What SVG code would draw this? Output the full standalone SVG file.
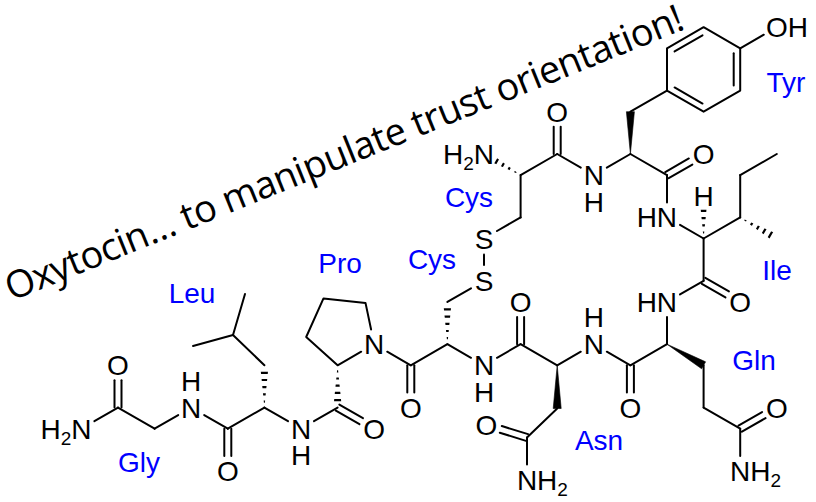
<svg xmlns="http://www.w3.org/2000/svg" width="816" height="502" viewBox="0 0 816 502">
<style>
.b{stroke:#000;stroke-width:2;fill:none;stroke-linecap:round;stroke-linejoin:round}
.w{fill:#000;stroke:#000;stroke-width:0.6;stroke-linejoin:round}
.h{stroke:#000;stroke-width:10;stroke-dasharray:2.2 5;fill:none}
.a{font-family:"Liberation Sans",Arial,sans-serif;font-size:28px;fill:#000}
.m{text-anchor:middle}
.e{text-anchor:end}
.sub{font-size:19px}
.r{font-family:"Liberation Sans",Arial,sans-serif;font-size:28px;fill:#0000ff;text-anchor:middle}
.t{font-family:"Open Sans","Noto Sans",sans-serif;font-size:38px;fill:#000}
</style>
<defs>
<clipPath id="cLeu" clipPathUnits="userSpaceOnUse"><polygon points="264.4,407.6 260.2,365.3 268.6,365.3"/></clipPath>
<clipPath id="cPro" clipPathUnits="userSpaceOnUse"><polygon points="337.6,365.3 333.4,407.6 341.8,407.6"/></clipPath>
<clipPath id="cCys2" clipPathUnits="userSpaceOnUse"><polygon points="447.4,344.2 443.2,301.9 451.6,301.9"/></clipPath>
<clipPath id="cCys1" clipPathUnits="userSpaceOnUse"><polygon points="520.6,175.1 486.1,150.36 481.9,157.64"/></clipPath>
<clipPath id="cIleH" clipPathUnits="userSpaceOnUse"><polygon points="703.6,238.5 699.4,196.2 707.8,196.2"/></clipPath>
<clipPath id="cIleMe" clipPathUnits="userSpaceOnUse"><polygon points="740.2,217.4 774.7,242.14 778.9,234.86"/></clipPath>
</defs>

<text class="t" x="11.4" y="301.3" transform="rotate(-22 11.4 301.3)" textLength="728" lengthAdjust="spacing">Oxytocin… to manipulate trust orientation!</text>

<g id="connectors">
<!-- Gly -->
<line class="b" x1="94.4" y1="421.2" x2="118" y2="407.6"/>
<line class="b" x1="114.5" y1="407.6" x2="114.5" y2="380.3"/>
<line class="b" x1="121.5" y1="407.6" x2="121.5" y2="380.3"/>
<line class="b" x1="118" y1="407.6" x2="154.6" y2="428.7"/>
<line class="b" x1="154.6" y1="428.7" x2="178.2" y2="415.1"/>
<!-- Leu -->
<line class="b" x1="204.2" y1="415.1" x2="227.8" y2="428.7"/>
<line class="b" x1="224.3" y1="428.7" x2="224.3" y2="456"/>
<line class="b" x1="231.3" y1="428.7" x2="231.3" y2="456"/>
<line class="b" x1="227.8" y1="428.7" x2="264.4" y2="407.6"/>
<line class="h" x1="264.4" y1="402.7" x2="264.4" y2="370.6" clip-path="url(#cLeu)"/>
<line class="b" x1="264.4" y1="365.3" x2="233" y2="335"/>
<line class="b" x1="233" y1="335" x2="193" y2="346"/>
<line class="b" x1="233" y1="335" x2="245" y2="294"/>
<line class="b" x1="264.4" y1="407.6" x2="288" y2="421.2"/>
<!-- Pro -->
<line class="b" x1="314" y1="421.2" x2="337.6" y2="407.6"/>
<line class="b" x1="335.85" y1="410.63" x2="359.45" y2="424.23"/>
<line class="b" x1="339.35" y1="404.57" x2="362.95" y2="418.17"/>
<line class="h" x1="337.6" y1="370.2" x2="337.6" y2="402.6" clip-path="url(#cPro)"/>
<polyline class="b" points="361.2,351.7 337.6,365.3 306.2,337 323.5,298.4 365.5,302.9 371.1,329.5"/>
<line class="b" x1="387.2" y1="351.7" x2="410.8" y2="365.3"/>
<!-- Cys (6) -->
<line class="b" x1="407.3" y1="365.3" x2="407.3" y2="392.6"/>
<line class="b" x1="414.3" y1="365.3" x2="414.3" y2="392.6"/>
<line class="b" x1="410.8" y1="365.3" x2="447.4" y2="344.2"/>
<line class="h" x1="447.4" y1="339.3" x2="447.4" y2="307" clip-path="url(#cCys2)"/>
<line class="b" x1="447.4" y1="301.9" x2="471" y2="288.3"/>
<line class="b" x1="484" y1="265" x2="484" y2="254.5"/>
<line class="b" x1="471" y1="357.8" x2="447.4" y2="344.2"/>
<!-- Cys (1) -->
<line class="b" x1="497" y1="231" x2="520.6" y2="217.4"/>
<line class="b" x1="520.6" y1="217.4" x2="520.6" y2="175.1"/>
<line class="h" x1="516.36" y1="172.65" x2="494.6" y2="160.1" clip-path="url(#cCys1)"/>
<line class="b" x1="520.6" y1="175.1" x2="557.2" y2="154"/>
<line class="b" x1="553.7" y1="154" x2="553.7" y2="126.7"/>
<line class="b" x1="560.7" y1="154" x2="560.7" y2="126.7"/>
<line class="b" x1="557.2" y1="154" x2="580.8" y2="167.6"/>
<!-- Tyr -->
<line class="b" x1="606.8" y1="167.6" x2="630.4" y2="154"/>
<polygon class="w" points="630.4,154 626.4,111.7 634.4,111.7"/>
<line class="b" x1="630.4" y1="111.7" x2="667" y2="90.6"/>
<path class="b" d="M667,90.6 L667,48.3 L703.6,27.2 L740.2,48.3 L740.2,90.6 L703.6,111.7 Z"/>
<line class="b" x1="674.58" y1="51.43" x2="702.52" y2="35.33"/>
<line class="b" x1="733.7" y1="53.3" x2="733.7" y2="85.6"/>
<line class="b" x1="674.58" y1="87.47" x2="702.52" y2="103.57"/>
<line class="b" x1="740.2" y1="48.3" x2="763.8" y2="34.7"/>
<line class="b" x1="630.4" y1="154" x2="667" y2="175.1"/>
<line class="b" x1="668.75" y1="178.13" x2="692.35" y2="164.53"/>
<line class="b" x1="665.25" y1="172.07" x2="688.85" y2="158.47"/>
<line class="b" x1="667" y1="175.1" x2="667" y2="202.4"/>
<!-- Ile -->
<line class="b" x1="680" y1="224.9" x2="703.6" y2="238.5"/>
<line class="h" x1="703.6" y1="233.6" x2="703.6" y2="208" clip-path="url(#cIleH)"/>
<line class="b" x1="703.6" y1="238.5" x2="740.2" y2="217.4"/>
<line class="b" x1="740.2" y1="217.4" x2="740.2" y2="175.1"/>
<line class="b" x1="740.2" y1="175.1" x2="776.8" y2="154"/>
<line class="h" x1="744.44" y1="219.85" x2="773.1" y2="236.4" clip-path="url(#cIleMe)"/>
<line class="b" x1="703.6" y1="238.5" x2="703.6" y2="280.8"/>
<line class="b" x1="701.85" y1="283.83" x2="725.45" y2="297.43"/>
<line class="b" x1="705.35" y1="277.77" x2="728.95" y2="291.37"/>
<line class="b" x1="703.6" y1="280.8" x2="680" y2="294.4"/>
<!-- Gln -->
<line class="b" x1="667" y1="316.9" x2="667" y2="344.2"/>
<polygon class="w" points="667,344.2 701.6,368.76 705.6,361.84"/>
<line class="b" x1="703.6" y1="365.3" x2="703.6" y2="407.6"/>
<line class="b" x1="703.6" y1="407.6" x2="740.2" y2="428.7"/>
<line class="b" x1="741.95" y1="431.73" x2="765.55" y2="418.13"/>
<line class="b" x1="738.45" y1="425.67" x2="762.05" y2="412.07"/>
<line class="b" x1="740.2" y1="428.7" x2="740.2" y2="456"/>
<line class="b" x1="667" y1="344.2" x2="630.4" y2="365.3"/>
<line class="b" x1="626.9" y1="365.3" x2="626.9" y2="392.6"/>
<line class="b" x1="633.9" y1="365.3" x2="633.9" y2="392.6"/>
<line class="b" x1="630.4" y1="365.3" x2="606.8" y2="351.7"/>
<!-- Asn -->
<line class="b" x1="580.8" y1="351.7" x2="557.2" y2="365.3"/>
<polygon class="w" points="557.2,365.3 561.2,408.5 553.2,408.5"/>
<line class="b" x1="557.2" y1="408.5" x2="527" y2="437.5"/>
<line class="b" x1="528.03" y1="434.16" x2="501.83" y2="426.06"/>
<line class="b" x1="525.97" y1="440.84" x2="499.77" y2="432.74"/>
<line class="b" x1="527" y1="437.5" x2="527" y2="464.5"/>
<line class="b" x1="557.2" y1="365.3" x2="520.6" y2="344.2"/>
<line class="b" x1="517.1" y1="344.2" x2="517.1" y2="316.9"/>
<line class="b" x1="524.1" y1="344.2" x2="524.1" y2="316.9"/>
<line class="b" x1="520.6" y1="344.2" x2="497" y2="357.8"/>
</g>

<g id="gly">
<text class="a e" x="91.5" y="438.7">H<tspan class="sub" dy="6">2</tspan><tspan dy="-6">N</tspan></text>
<text class="a m" x="118" y="375.3">O</text>
<text class="r" x="139" y="472">Gly</text>
</g>
<g id="leu">
<text class="a m" x="191.2" y="417.6">N</text>
<text class="a m" x="191.2" y="390.8">H</text>
<text class="a m" x="227.8" y="481">O</text>
<text class="r" x="192" y="303">Leu</text>
</g>
<g id="pro">
<text class="a m" x="301" y="438.7">N</text>
<text class="a m" x="301" y="465.4">H</text>
<text class="a m" x="374.2" y="438.7">O</text>
<text class="a m" x="374.2" y="354.2">N</text>
<text class="r" x="340" y="273">Pro</text>
</g>
<g id="cys6">
<text class="a m" x="410.8" y="417.6">O</text>
<text class="a m" x="484" y="290.8">S</text>
<text class="r" x="432" y="269">Cys</text>
</g>
<g id="asn">
<text class="a m" x="484" y="375.3">N</text>
<text class="a m" x="484" y="402">H</text>
<text class="a m" x="520.6" y="311.9">O</text>
<text class="a m" x="486.5" y="435">O</text>
<text class="a" x="516.9" y="489.5">NH<tspan class="sub" dy="6">2</tspan></text>
<text class="r" x="599" y="450">Asn</text>
</g>
<g id="gln">
<text class="a m" x="593.8" y="354.2">N</text>
<text class="a m" x="593.8" y="327.4">H</text>
<text class="a m" x="630.4" y="417.6">O</text>
<text class="a m" x="776.8" y="417.6">O</text>
<text class="a" x="730.1" y="481">NH<tspan class="sub" dy="6">2</tspan></text>
<text class="r" x="754" y="370">Gln</text>
</g>
<g id="ile">
<text class="a e" x="677.1" y="311.9">HN</text>
<text class="a m" x="740.2" y="311.9">O</text>
<text class="a m" x="703.6" y="205.9">H</text>
<text class="r" x="777" y="280">Ile</text>
</g>
<g id="tyr">
<text class="a e" x="677.1" y="227.4">HN</text>
<text class="a m" x="703.6" y="164">O</text>
<text class="a" x="765.9" y="37.2">OH</text>
<text class="r" x="786" y="92">Tyr</text>
</g>
<g id="cys1">
<text class="a e" x="494.1" y="164">H<tspan class="sub" dy="6">2</tspan><tspan dy="-6">N</tspan></text>
<text class="a m" x="557.2" y="121.7">O</text>
<text class="a m" x="593.8" y="185.1">N</text>
<text class="a m" x="593.8" y="211.8">H</text>
<text class="a m" x="484" y="248.5">S</text>
<text class="r" x="469" y="207">Cys</text>
</g>
</svg>
